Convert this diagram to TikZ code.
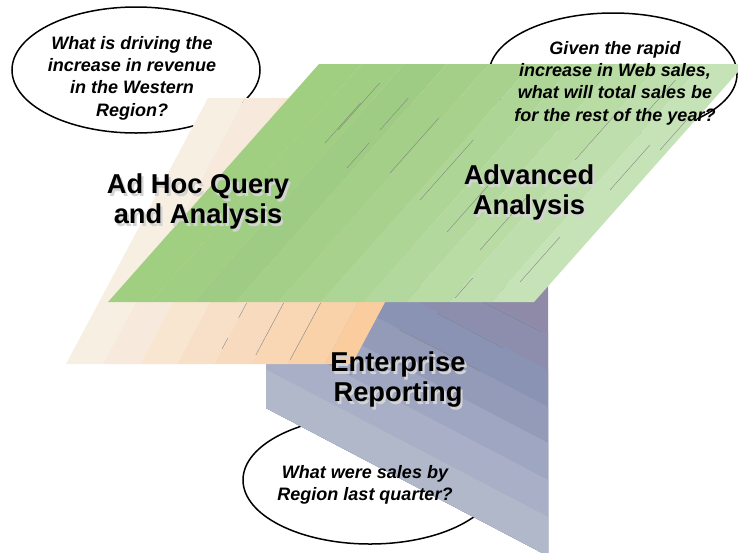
\documentclass[tikz,border=0pt]{standalone}
\usepackage{fontspec}
\setmainfont{Liberation Sans}
\usetikzlibrary{shapes.geometric,calc}

% green layer (left to right)
\definecolor{g0}{HTML}{A1CF81}
\definecolor{g1}{HTML}{A0CE82}
\definecolor{g2}{HTML}{9FCC84}
\definecolor{g3}{HTML}{A3CF88}
\definecolor{g4}{HTML}{A8D18E}
\definecolor{g5}{HTML}{ADD595}
\definecolor{g6}{HTML}{B3D89D}
\definecolor{g7}{HTML}{B9DBA4}
\definecolor{g8}{HTML}{BFDEAD}
\definecolor{g9}{HTML}{C6E2B7}
% orange layer (left to right)
\definecolor{o0}{HTML}{F7F0E2}
\definecolor{o1}{HTML}{F7E9DC}
\definecolor{o2}{HTML}{F8E6D1}
\definecolor{o3}{HTML}{F8E0C8}
\definecolor{o4}{HTML}{F8DBBE}
\definecolor{o5}{HTML}{F9D6B4}
\definecolor{o6}{HTML}{F9D2AA}
\definecolor{o7}{HTML}{FBCD9E}
% blue layer (top to bottom)
\definecolor{b0}{HTML}{8F8AA8}
\definecolor{b1}{HTML}{8D8EAE}
\definecolor{b2}{HTML}{8A93B4}
\definecolor{b3}{HTML}{949BB9}
\definecolor{b4}{HTML}{9FA6C1}
\definecolor{b5}{HTML}{A8AFC6}
\definecolor{b6}{HTML}{B1B8C9}
\definecolor{shade}{HTML}{D4D4D4}

% one line of title text with a light drop shade behind it
\newcommand{\shadedline}[1]{\makebox[0pt][l]{\hspace{2.2pt}\raisebox{-2.2pt}{\textcolor{shade}{#1}}}#1}

\begin{document}
\begin{tikzpicture}[x=1pt,y=-1pt,
  bubble/.style={draw=black, line width=1.5pt, fill=white, ellipse, inner sep=0pt},
  question/.style={font=\fontsize{18}{22.3}\selectfont\bfseries\itshape, align=center, inner sep=0pt},
  title/.style={font=\fontsize{27.3}{30}\selectfont\bfseries, align=center, inner sep=0pt, text=black},
  hair/.style={line width=0.35pt, draw=black!50}
]
\clip (0,0) rectangle (738,552);
\fill[white] (0,0) rectangle (738,552);

% question bubbles (behind the layers)
\node[bubble, minimum width=248pt, minimum height=126pt] (bubbleA) at (136,70) {};
\node[bubble, minimum width=248pt, minimum height=122pt] (bubbleB) at (613,74) {};
\node[bubble, minimum width=254pt, minimum height=128pt] (bubbleC) at (370,480) {};

% Enterprise Reporting layer: diagonal bands falling to the right
\begin{scope}
  \clip (266,286) -- (548,286) -- (548,556) -- (266,408) -- cycle;
  \fill[b0] (260,280) rectangle (560,560);
  \foreach \c/\col in {333/b1,370/b2,407/b3,443/b4,480/b5,517/b6}{
    \fill[\col] (260,\c-150.7) -- (560,\c+6.2) -- (560,600) -- (260,600) -- cycle;
  }
\end{scope}
\draw[hair] (483,302) -- (542,332);
\draw[hair] (437,313) -- (503,348);
\draw[hair] (400,330) -- (480,371);
\draw[hair] (322,360) -- (352,375);

% Ad Hoc Query layer: bands leaning to the right
\foreach \a/\b/\col in {66/103/o0,103/140/o1,140/177/o2,177/214/o3,214/251/o4,251/288/o5,288/325/o6,325/352/o7}{
  \fill[\col] (\a,364) -- (\b,364) -- (\b+142,98) -- (\a+142,98) -- cycle;
}
\draw[hair] (320.6,303) -- (290,360);
\draw[hair] (283.6,303) -- (255.8,355);
\draw[hair] (246.6,303) -- (238.6,318);
\draw[hair] (227.9,338) -- (222,349);

% Advanced Analysis layer: bands leaning to the right
\foreach \col [count=\k from 0] in {g0,g1,g2,g3,g4,g5,g6,g7,g8,g9}{
  \pgfmathsetmacro{\xa}{108+42.6*\k}
  \pgfmathsetmacro{\xb}{108+42.6*(\k+1)}
  \fill[\col] (\xa,302) -- (\xb,302) -- (\xb+211,64) -- (\xa+211,64) -- cycle;
}
\foreach \x/\y/\h in {338/130/47,380/130/32,325/143/40,347/168/25,390/173/55,420/200/60,
                      447/232/55,480/250/55,520/282/45,575/160/50,610/190/45,455/298/20,
                      640/120/40,660/150/30}{
  \draw[hair] (\x,\y) -- (\x+0.887*\h,\y-\h);
}

% layer titles
\node[title] (adhoc) at (198,203) {\shadedline{Ad Hoc Query}\\\shadedline{and Analysis}};
\node[title] (advanced) at (529,194) {\shadedline{Advanced}\\\shadedline{Analysis}};
\node[title] (enterprise) at (398,381) {\shadedline{Enterprise}\\\shadedline{Reporting}};

% questions
\node[question] (qA) at (132,78) {What is driving the\\increase in revenue\\in the Western\\Region?};
\node[question] (qB) at (615,83) {Given the rapid\\increase in Web sales,\\what will total sales be\\for the rest of the year?};
\node[question] (qC) at (365,485) {What were sales by\\Region last quarter?};
\end{tikzpicture}
\end{document}
